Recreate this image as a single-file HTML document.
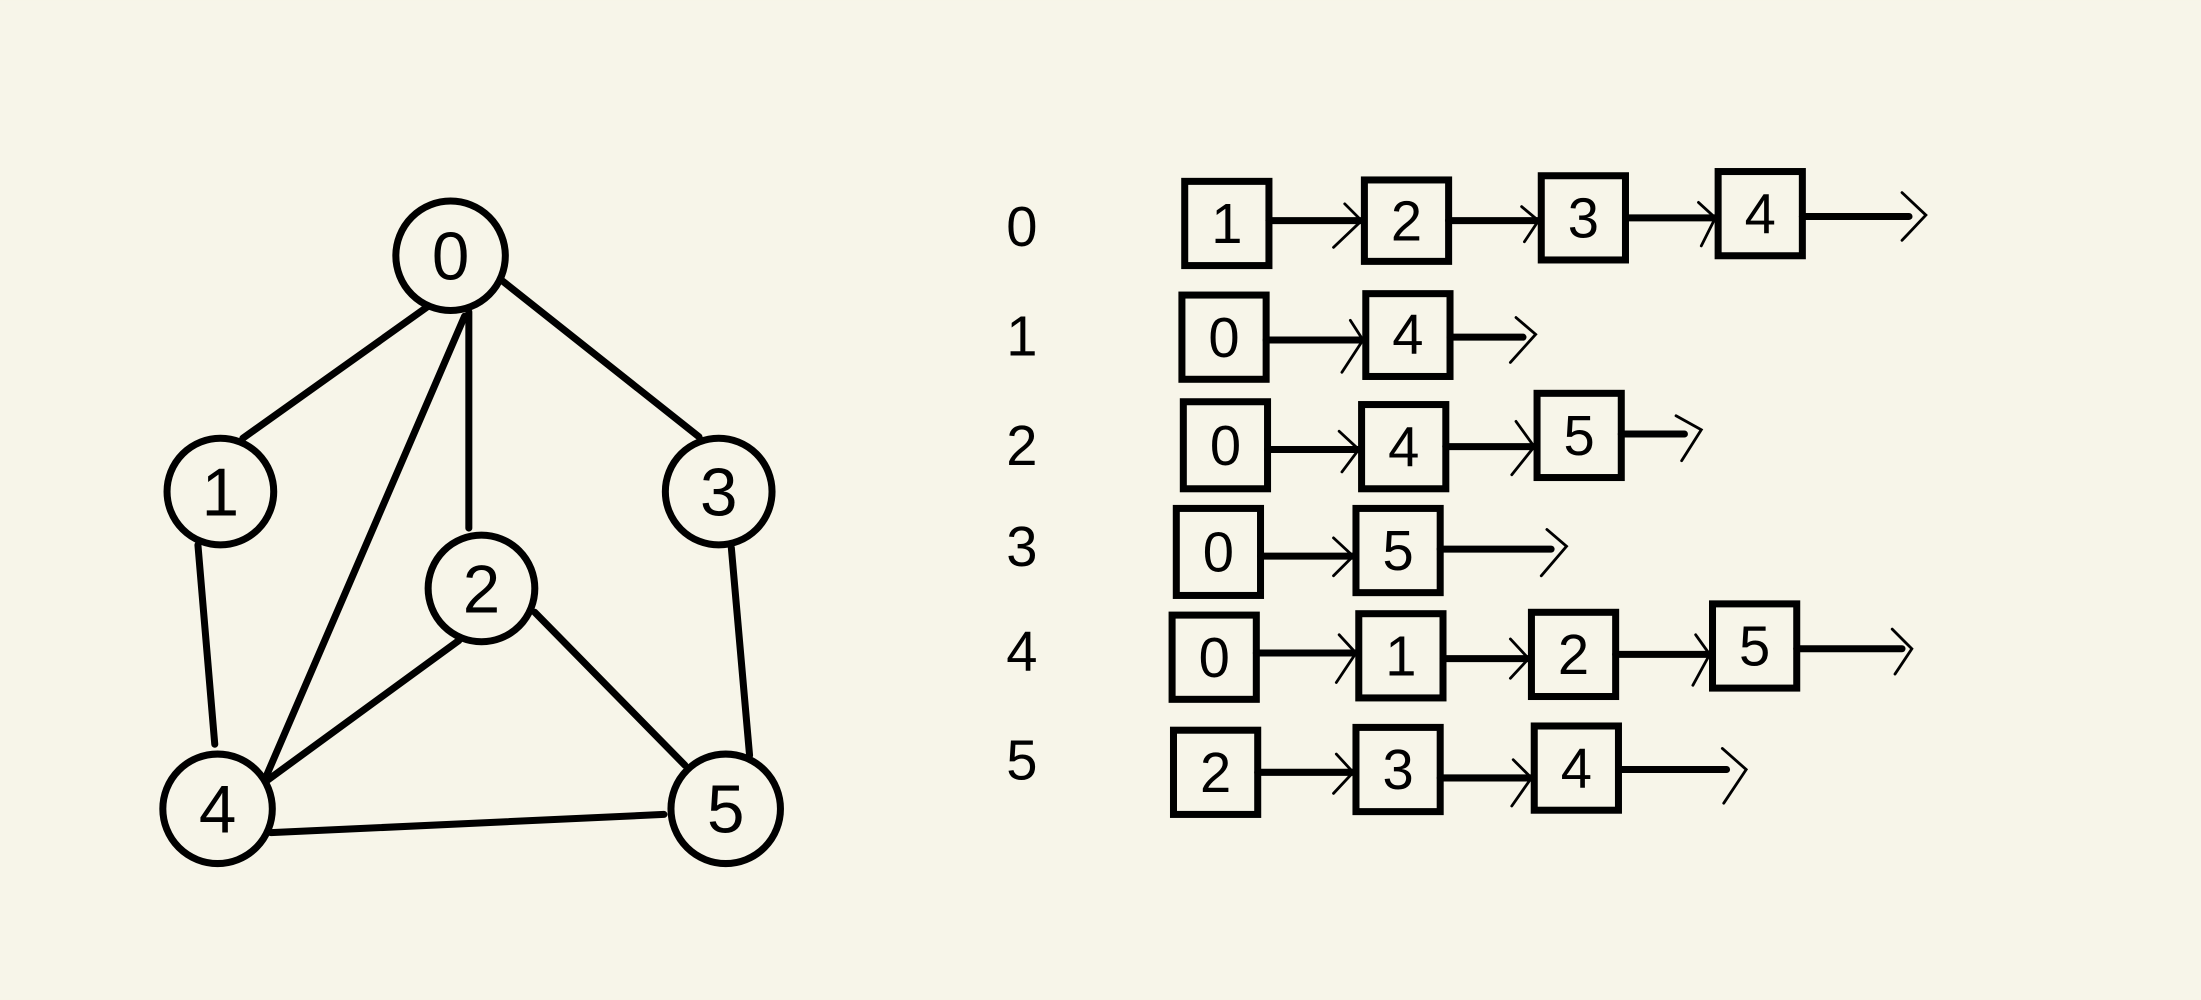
<!DOCTYPE html>
<html><head><meta charset="utf-8"><style>
html,body{margin:0;padding:0;background:#f7f5e9;}
svg{display:block;}
text{font-family:"Liberation Sans",sans-serif;fill:#000;}
</style></head><body>
<svg width="2201" height="1000" viewBox="0 0 1568 712" xmlns="http://www.w3.org/2000/svg">
<rect width="1568" height="712" fill="#f7f5e9"/>
<g stroke="#000" stroke-width="5" stroke-linecap="round" fill="none">
<line x1="305" y1="218" x2="173" y2="312"/>
<line x1="358" y1="200" x2="498" y2="311"/>
<line x1="334" y1="222" x2="334" y2="376"/>
<line x1="331" y1="225" x2="190" y2="552"/>
<line x1="141" y1="388" x2="153" y2="530"/>
<line x1="521" y1="390" x2="534" y2="538"/>
<line x1="327" y1="456" x2="190" y2="556"/>
<line x1="381" y1="436" x2="488" y2="545"/>
<line x1="193" y1="593" x2="473" y2="580"/>
<circle cx="321" cy="182" r="39"/>
<circle cx="157" cy="350" r="38"/>
<circle cx="512" cy="350" r="38"/>
<circle cx="343" cy="419" r="38"/>
<circle cx="155" cy="576" r="39"/>
<circle cx="517" cy="576" r="39"/>
</g>
<g font-size="48" text-anchor="middle">
<text x="321" y="199">0</text>
<text x="157" y="367">1</text>
<text x="512" y="367">3</text>
<text x="343" y="436">2</text>
<text x="155" y="593">4</text>
<text x="517" y="593">5</text>
</g>
<g font-size="40" text-anchor="middle">
<text x="728" y="175">0</text>
<text x="728" y="253">1</text>
<text x="728" y="331">2</text>
<text x="728" y="403">3</text>
<text x="728" y="478">4</text>
<text x="728" y="555">5</text>
</g>
<g stroke="#000" stroke-width="5" fill="none" stroke-linecap="round">
<!-- row0 -->
<rect x="844" y="129" width="60" height="60"/><rect x="972" y="128" width="60" height="58"/><rect x="1098" y="125" width="60" height="60"/><rect x="1224" y="122" width="60" height="60"/>
<line x1="904" y1="157" x2="970" y2="157"/><line x1="1032" y1="157" x2="1096" y2="157"/><line x1="1158" y1="155" x2="1222" y2="155"/><line x1="1284" y1="154" x2="1360" y2="154"/>
<!-- row1 -->
<rect x="842" y="210" width="60" height="60"/><rect x="973" y="209" width="60" height="59"/>
<line x1="902" y1="242" x2="971" y2="242"/><line x1="1033" y1="240" x2="1085" y2="240"/>
<!-- row2 -->
<rect x="843" y="286" width="60" height="62"/><rect x="970" y="288" width="60" height="60"/><rect x="1095" y="280" width="60" height="60"/>
<line x1="903" y1="320" x2="968" y2="320"/><line x1="1030" y1="318" x2="1093" y2="318"/><line x1="1155" y1="309" x2="1200" y2="309"/>
<!-- row3 -->
<rect x="838" y="362" width="60" height="62"/><rect x="966" y="362" width="60" height="60"/>
<line x1="898" y1="396" x2="964" y2="396"/><line x1="1026" y1="391" x2="1105" y2="391"/>
<!-- row4 -->
<rect x="835" y="438" width="60" height="60"/><rect x="968" y="437" width="60" height="60"/><rect x="1091" y="436" width="60" height="60"/><rect x="1220" y="430" width="60" height="60"/>
<line x1="895" y1="465" x2="966" y2="465"/><line x1="1028" y1="469" x2="1089" y2="469"/><line x1="1151" y1="466" x2="1218" y2="466"/><line x1="1280" y1="462" x2="1355" y2="462"/>
<!-- row5 -->
<rect x="836" y="520" width="60" height="60"/><rect x="966" y="518" width="60" height="60"/><rect x="1093" y="517" width="60" height="60"/>
<line x1="896" y1="550" x2="964" y2="550"/><line x1="1026" y1="554" x2="1091" y2="554"/><line x1="1153" y1="548" x2="1230" y2="548"/>
</g>
<g stroke="#000" stroke-width="2" fill="none" stroke-linecap="round">
<polyline points="958,145 970,157 950,176"/><polyline points="1084,147 1096,157 1086,172"/><polyline points="1210,144 1222,155 1212,175"/><polyline points="1355,137 1372,153 1355,171"/>
<polyline points="962,228 971,242 956,265"/><polyline points="1080,226 1094,238 1076,258"/>
<polyline points="954,307 968,320 956,336"/><polyline points="1080,300 1093,318 1077,338"/><polyline points="1194,296 1212,306 1198,328"/>
<polyline points="950,383 964,396 950,410"/><polyline points="1102,377 1116,389 1098,410"/>
<polyline points="954,452 966,465 952,486"/><polyline points="1076,455 1089,469 1076,483"/><polyline points="1208,452 1218,466 1206,488"/><polyline points="1348,448 1362,462 1350,480"/>
<polyline points="952,537 964,550 950,565"/><polyline points="1078,541 1091,554 1077,574"/><polyline points="1227,533 1244,548 1228,572"/>
</g>
<g font-size="40" text-anchor="middle">
<text x="874" y="173">1</text><text x="1002" y="171">2</text><text x="1128" y="169">3</text><text x="1254" y="166">4</text>
<text x="872" y="254">0</text><text x="1003" y="252">4</text>
<text x="873" y="331">0</text><text x="1000" y="332">4</text><text x="1125" y="324">5</text>
<text x="868" y="407">0</text><text x="996" y="406">5</text>
<text x="865" y="482">0</text><text x="998" y="481">1</text><text x="1121" y="480">2</text><text x="1250" y="474">5</text>
<text x="866" y="564">2</text><text x="996" y="562">3</text><text x="1123" y="561">4</text>
</g>
</svg>
</body></html>
